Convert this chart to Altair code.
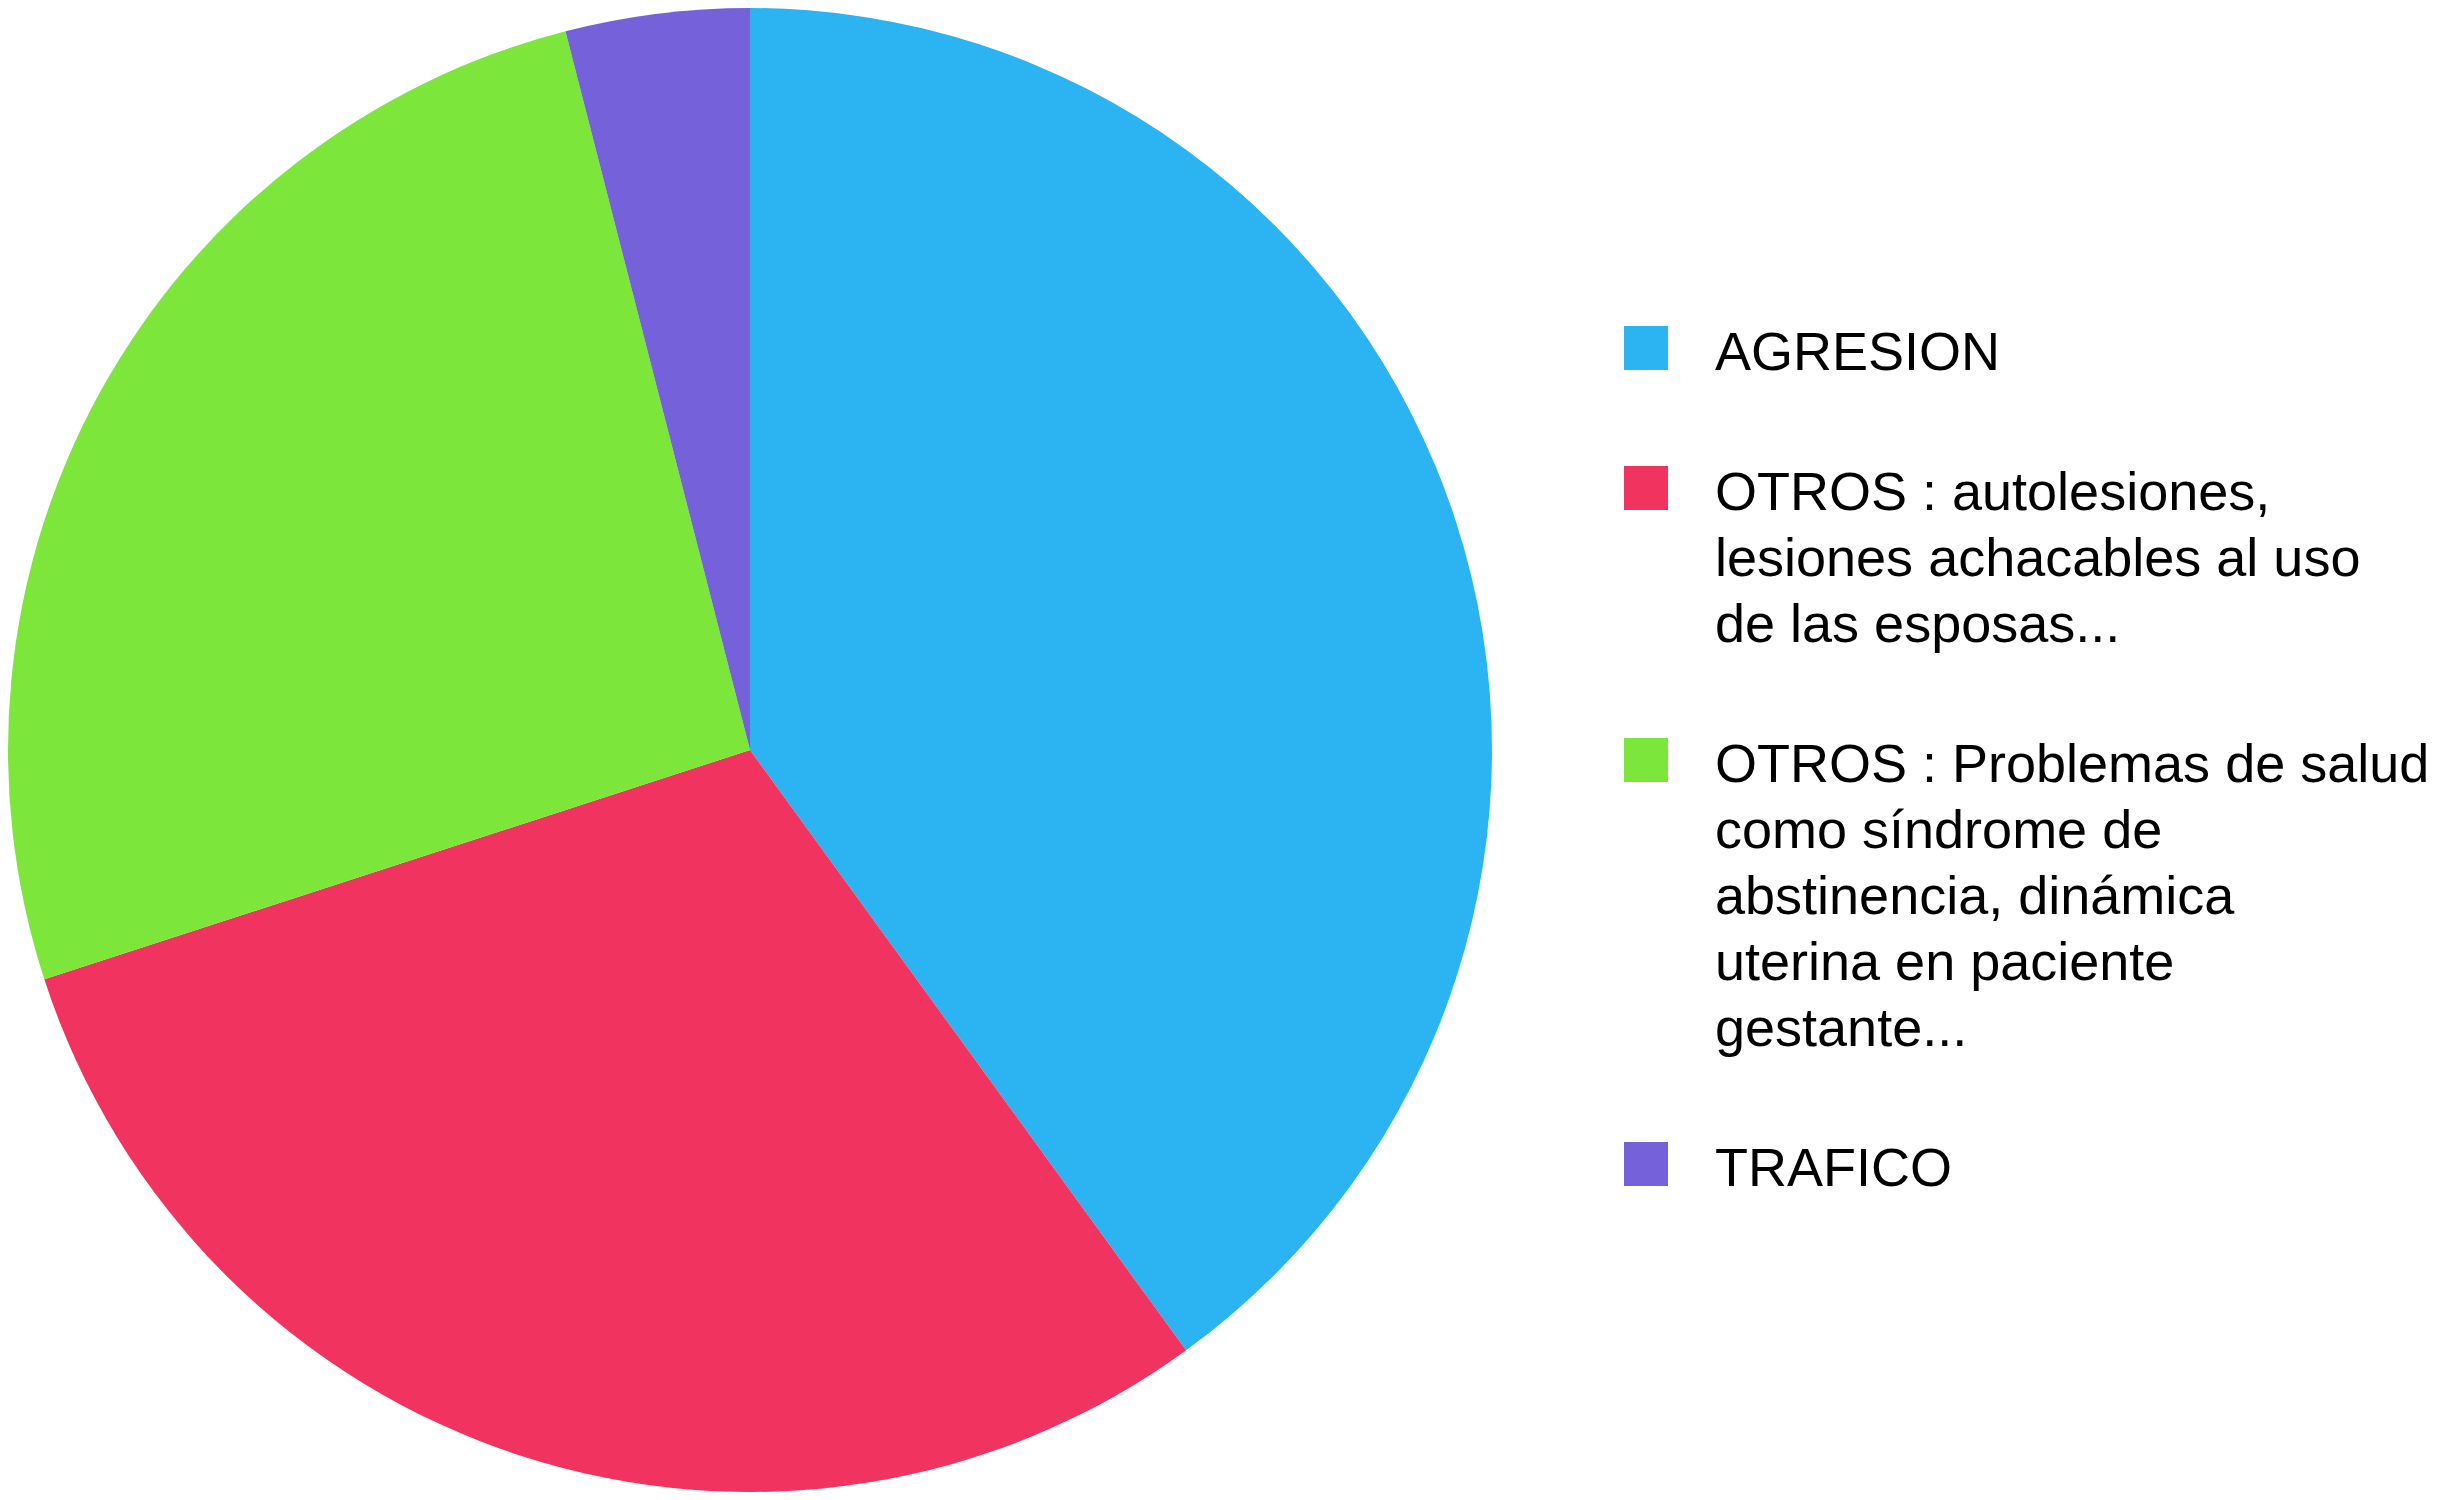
import altair as alt
import pandas as pd

categories = [
    "AGRESION",
    "OTROS : autolesiones,\nlesiones achacables al uso\nde las esposas...",
    "OTROS : Problemas de salud\ncomo síndrome de\nabstinencia, dinámica\nuterina en paciente\ngestante...",
    "TRAFICO",
]
values = [40, 30, 26, 4]
order = [1, 2, 3, 4]
colors = ["#2CB3F1", "#F0345F", "#7DE63A", "#7561DA"]

df = pd.DataFrame({"cat": categories, "value": values, "order": order})

chart = (
    alt.Chart(df)
    .mark_arc(radius=742)
    .encode(
        theta=alt.Theta("value:Q", stack=True),
        order=alt.Order("order:Q"),
        color=alt.Color(
            "cat:N",
            sort=categories,
            scale=alt.Scale(domain=categories, range=colors),
            legend=alt.Legend(
                title=None,
                orient="none",
                legendX=1611,
                legendY=313,
                symbolType="square",
                symbolSize=1936,
                symbolStrokeWidth=0,
                symbolOpacity=1,
                labelFont="Liberation Sans",
                labelFontSize=54,
                labelColor="#000000",
                labelLimit=2000,
                labelOffset=42,
                labelBaseline="alphabetic",
                labelExpr="split(datum.label, '\\n')",
                rowPadding=80,
                padding=0,
            ),
        ),
    )
    .properties(
        width=1484,
        height=1484,
        padding={"left": 0, "top": 0, "right": 944, "bottom": 0},
        autosize=alt.AutoSizeParams(type="none"),
    )
    .configure(style={"guide-label": {"lineHeight": 66, "dy": 22}})
    .configure_view(stroke=None)
)

chart.save("out.html", embed_options={"renderer": "svg", "actions": False})
